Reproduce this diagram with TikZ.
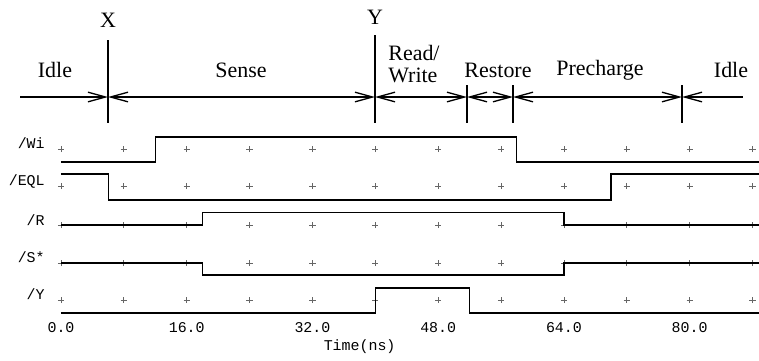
\documentclass[tikz,border=0pt]{standalone}
\usepackage{fontspec}
\setmainfont{Liberation Serif}
\setmonofont{Liberation Mono}
\usetikzlibrary{arrows.meta}

\tikzset{phase/.style={font=\fontsize{12.5}{13}\selectfont, inner sep=0pt},
         sig/.style={font=\ttfamily\fontsize{8.5}{9}\selectfont, anchor=east, inner sep=0pt},
         tick/.style={font=\ttfamily\fontsize{8.5}{9}\selectfont, inner sep=0pt},
         marker/.style={line width=0.75pt},
         span/.style={line width=0.75pt},
         wave/.style={line width=0.7pt},
         grid/.style={black!60, line width=0.45pt}}

\begin{document}
\begin{tikzpicture}[x=0.02cm,y=-0.02cm,>={Straight Barb[length=10pt,width=5.5pt]}]
\useasboundingbox (0,0) rectangle (759,360);

\coordinate (start) at (20,97);
\coordinate (X) at (108,97);
\coordinate (Y) at (375,97);
\coordinate (RW) at (467,97);
\coordinate (RS) at (513,97);
\coordinate (PC) at (682,97);
\coordinate (stop) at (743,97);

\draw[marker] (X) ++(0,-57) -- ++(0,83);
\draw[marker] (Y) ++(0,-62) -- ++(0,88);
\draw[marker] (RW) ++(0,-12) -- ++(0,38);
\draw[marker] (RS) ++(0,-12) -- ++(0,38);
\draw[marker] (PC) ++(0,-12) -- ++(0,38);

\draw[span,->] (start) -- (X);
\draw[span,<->] (X) -- (Y);
\draw[span,<->] (Y) -- (RW);
\draw[span,<->] (RW) -- (RS);
\draw[span,<->] (RS) -- (PC);
\draw[span,<-] (PC) -- (stop);

\node[phase] (xlab) at (108,20) {X};
\node[phase] (ylab) at (375,17) {Y};
\node[phase] (idle1) at (55,70) {Idle};
\node[phase] (sense) at (241,70) {Sense};
\node[phase, align=left, anchor=west] (rdwr) at (388,64) {Read/\\[-1pt]Write};
\node[phase] (restore) at (498,70) {Restore};
\node[phase] (prech) at (600,70) {Precharge};
\node[phase] (idle2) at (731,70) {Idle};

\node[sig] (wi) at (45,143) {/Wi};
\node[sig] (eql) at (45,181) {/EQL};
\node[sig] (r) at (45,220) {/R};
\node[sig] (s) at (45,257) {/S*};
\node[sig] (yy) at (45,294) {/Y};

\begin{scope}[x=0.1572cm, xshift=1.22cm]
\foreach \t in {0,8,...,88}
  \foreach \row in {149,186,225,263,300}
    \draw[grid] (\t,\row) ++(-1.8pt,0pt) -- ++(3.6pt,0pt) (\t,\row) ++(0pt,-1.8pt) -- ++(0pt,3.6pt);

\draw[wave] (0,162) -- (12,162) -- (12,137) -- (58,137) -- (58,162) -- (88.8,162);
\draw[wave] (0,174) -- (6,174) -- (6,200) -- (70,200) -- (70,174) -- (88.8,174);
\draw[wave] (0,225) -- (18,225) -- (18,212.5) -- (64,212.5) -- (64,225) -- (88.8,225);
\draw[wave] (0,263) -- (18,263) -- (18,275) -- (64,275) -- (64,263) -- (88.8,263);
\draw[wave] (0,313) -- (40,313) -- (40,288) -- (52,288) -- (52,313) -- (88.8,313);

\foreach \t in {0,16,...,80}
  \node[tick] (t\t) at (\t,328) {\t.0};
\node[tick] (time) at (38,347) {Time(ns)};
\end{scope}
\end{tikzpicture}
\end{document}
